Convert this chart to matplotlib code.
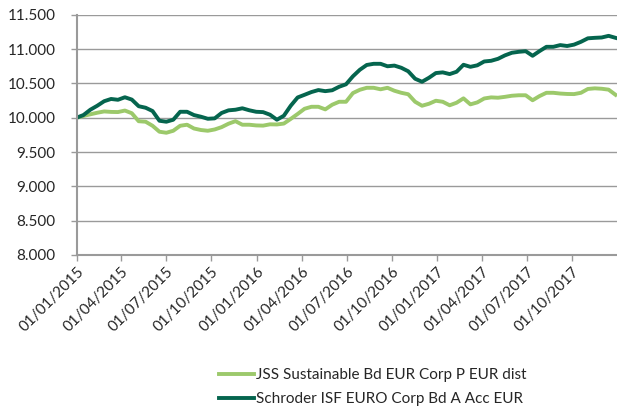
import matplotlib
matplotlib.use("Agg")
import matplotlib.pyplot as plt
import matplotlib.dates as mdates
from matplotlib.ticker import FuncFormatter
import pandas as pd

plt.rcParams['font.family'] = ['Lato', 'DejaVu Sans']

# fortnightly readings, value of 10.000 invested on 01/01/2015
dates = pd.date_range("2015-01-01", periods=79, freq="14D")

jss_label = "JSS Sustainable Bd EUR Corp P EUR dist"
jss = [10000, 10026, 10050, 10073, 10092, 10085, 10083, 10105, 10066, 9949,
       9942, 9883, 9796, 9781, 9810, 9883, 9898, 9843, 9821, 9810,
       9829, 9863, 9913, 9950, 9898, 9898, 9888, 9885, 9904, 9902,
       9915, 9983, 10055, 10131, 10160, 10160, 10122, 10190, 10233, 10233,
       10360, 10408, 10437, 10437, 10415, 10437, 10394, 10364, 10343, 10233,
       10175, 10204, 10248, 10233, 10182, 10219, 10283, 10195, 10224, 10281,
       10297, 10292, 10305, 10321, 10328, 10328, 10255, 10316, 10364, 10364,
       10353, 10347, 10345, 10364, 10420, 10429, 10423, 10410, 10335]

sch_label = "Schroder ISF EURO Corp Bd A Acc EUR"
sch = [10000, 10039, 10117, 10175, 10241, 10274, 10262, 10299, 10265, 10168,
       10146, 10098, 9956, 9942, 9971, 10087, 10087, 10039, 10015, 9985,
       9991, 10070, 10108, 10117, 10138, 10109, 10087, 10082, 10044, 9971,
       10029, 10175, 10296, 10335, 10375, 10404, 10388, 10401, 10452, 10488,
       10605, 10700, 10770, 10787, 10787, 10751, 10761, 10729, 10678, 10569,
       10525, 10583, 10652, 10662, 10637, 10671, 10773, 10743, 10765, 10821,
       10831, 10860, 10910, 10948, 10962, 10971, 10904, 10972, 11035, 11035,
       11060, 11047, 11067, 11108, 11159, 11166, 11171, 11195, 11166]

tick_dates = pd.date_range("2015-01-01", "2017-10-01", freq="QS")

light = "#9CC96B"
dark = "#05654E"
grey = "#9A9A9A"
txt = "#262626"

fig = plt.figure(figsize=(6.17, 4.15), dpi=100)
ax = fig.add_axes([0.124, 0.386, 0.876, 0.578])

ax.plot(dates, jss, color=light, lw=2.8, label=jss_label, solid_joinstyle="round")
ax.plot(dates, sch, color=dark, lw=2.8, label=sch_label, solid_joinstyle="round")

ax.set_ylim(8000, 11500)
ax.set_yticks(range(8000, 11501, 500))
ax.yaxis.set_major_formatter(FuncFormatter(lambda v, p: f"{int(v):,}".replace(",", ".")))
ax.set_xlim(pd.Timestamp("2015-01-01"), pd.Timestamp("2017-12-31"))
ax.set_xticks(tick_dates)
ax.xaxis.set_major_formatter(mdates.DateFormatter("%d/%m/%Y"))

ax.grid(axis="y", color=grey, lw=1)
ax.set_axisbelow(True)
for s in ["top", "right"]:
    ax.spines[s].set_visible(False)
for s in ["left", "bottom"]:
    ax.spines[s].set_color(grey)
    ax.spines[s].set_linewidth(1.5)

ax.tick_params(axis="y", length=4, color=grey, width=1, pad=11, labelsize=11, labelcolor=txt)
ax.tick_params(axis="x", length=4, color=grey, width=1, pad=3, labelsize=11, labelcolor=txt)
for lab in ax.get_xticklabels():
    lab.set_rotation(45)
    lab.set_ha("right")
    lab.set_va("top")
    lab.set_rotation_mode("anchor")

fig.legend(loc="center left", bbox_to_anchor=(0.343, 0.067), frameon=False,
           fontsize=11, handlelength=2.3, handletextpad=0.1, labelspacing=0.65,
           borderpad=0, labelcolor=txt)

fig.savefig("out.png", dpi=100)
